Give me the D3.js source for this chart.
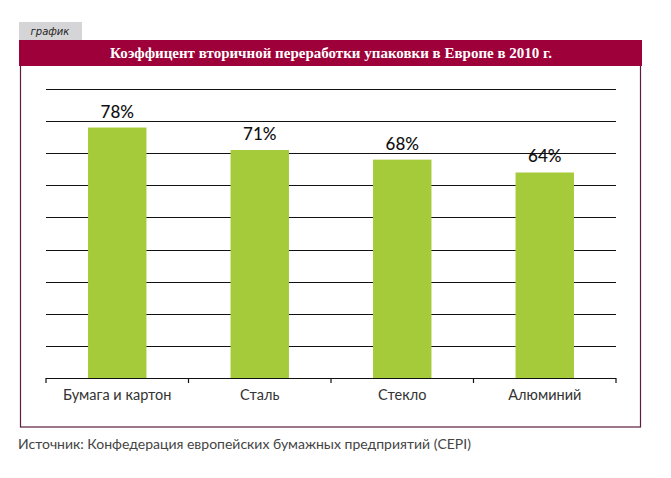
<!DOCTYPE html>
<html><head><meta charset="utf-8">
<script src="https://cdn.jsdelivr.net/npm/d3@7"></script>
<style>body{margin:0;background:#fff}svg{display:block}</style>
</head><body>
<svg id="c" width="671" height="478"></svg>
<script>
const categories = ["Бумага и картон", "Сталь", "Стекло", "Алюминий"];
const values = [78, 71, 68, 64];
const yTicks = [0, 10, 20, 30, 40, 50, 60, 70, 80, 90];
const title = "Коэффицент вторичной переработки упаковки в Европе в 2010 г.";
const tabLabel = "график";
const source = "Источник: Конфедерация европейских бумажных предприятий (CEPI)";

const svg = d3.select("#c");
const red = "#9e0039", green = "#a6cb3a", frame = "#5b1d3c";

// frame
svg.append("rect").attr("x", 20.5).attr("y", 60).attr("width", 620).attr("height", 367)
  .attr("fill", "#fff").attr("stroke", frame).attr("stroke-width", 1.2);
// tab
svg.append("rect").attr("x", 19).attr("y", 22).attr("width", 63).attr("height", 18).attr("fill", "#d5d5d7");
svg.append("text").attr("x", 50).attr("y", 35).attr("text-anchor", "middle")
  .attr("font-family", "DejaVu Sans").attr("font-size", 10).attr("font-style", "italic")
  .attr("fill", "#222").text(tabLabel);
// title bar
svg.append("rect").attr("x", 19).attr("y", 40).attr("width", 623).attr("height", 26).attr("fill", red);
svg.append("text").attr("x", 331).attr("y", 58).attr("text-anchor", "middle")
  .attr("font-family", "Liberation Serif").attr("font-weight", "bold").attr("font-size", 15)
  .attr("fill", "#fff").text(title);

const x = d3.scaleBand().domain(categories).range([46, 616]).padding(0);
const y = d3.scaleLinear().domain([0, 90]).range([378, 89]);

// gridlines
svg.append("g").selectAll("line").data(yTicks.slice(1)).join("line")
  .attr("x1", 46).attr("x2", 616).attr("y1", d => Math.round(y(d)) + 0.5).attr("y2", d => Math.round(y(d)) + 0.5)
  .attr("stroke", "#111").attr("stroke-width", 1.2);

// bars
const bw = x.bandwidth() * 0.41;
svg.append("g").selectAll("rect").data(values).join("rect")
  .attr("x", (d, i) => x(categories[i]) + x.bandwidth() / 2 - bw / 2)
  .attr("width", bw)
  .attr("y", d => y(d)).attr("height", d => y(0) - y(d))
  .attr("fill", green);

// value labels
svg.append("g").selectAll("text").data(values).join("text")
  .attr("x", (d, i) => x(categories[i]) + x.bandwidth() / 2)
  .attr("y", d => y(d) - 10)
  .attr("text-anchor", "middle").attr("font-family", "Lato").attr("font-size", 17).attr("font-weight", 500)
  .attr("fill", "#111").text(d => d + "%");

// x axis
const ax = svg.append("g").attr("transform", "translate(0,378)");
ax.append("line").attr("x1", 46).attr("x2", 616).attr("y1", 0.5).attr("y2", 0.5).attr("stroke", "#111").attr("stroke-width", 1.2);
const edges = categories.map(c => x(c)).concat([x.range()[1]]);
ax.selectAll("line.t").data(edges).join("line").attr("class", "t")
  .attr("x1", d => d).attr("x2", d => d).attr("y1", 0).attr("y2", 5).attr("stroke", "#111").attr("stroke-width", 1.2);
ax.selectAll("text").data(categories).join("text")
  .attr("x", d => x(d) + x.bandwidth() / 2).attr("y", 22)
  .attr("text-anchor", "middle").attr("font-family", "Lato").attr("font-size", 14.5)
  .attr("fill", "#333").text(d => d);

// source
svg.append("text").attr("x", 18).attr("y", 449).attr("font-family", "Lato").attr("font-size", 14)
  .attr("fill", "#444").text(source);
</script>
</body></html>
